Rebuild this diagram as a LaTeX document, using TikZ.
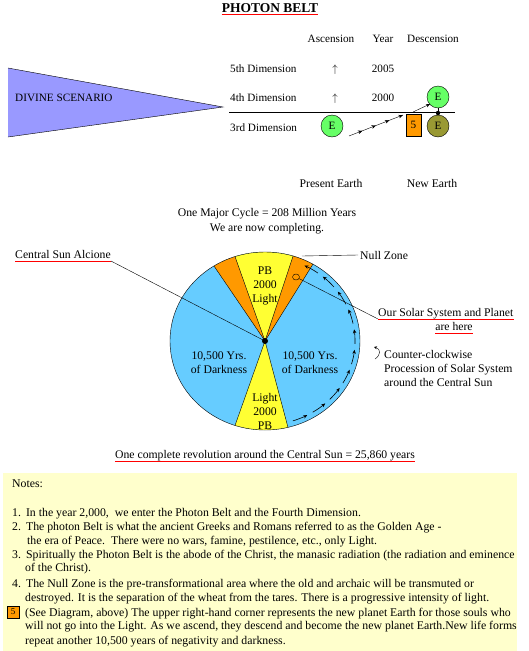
\documentclass[tikz,border=0pt]{standalone}
\usepackage{amsmath}
\usepackage{fontspec}
\setmainfont{Liberation Serif}
\usetikzlibrary{arrows.meta,decorations.markings,shapes.geometric}
\definecolor{skyblue}{HTML}{66CCFF}
\definecolor{sunyellow}{HTML}{FFFF33}
\definecolor{nullorange}{HTML}{FF9900}
\definecolor{earthgreen}{HTML}{66FF66}
\definecolor{eartholive}{HTML}{999933}
\definecolor{divineblue}{HTML}{9999FF}
\definecolor{notebg}{HTML}{FFFFCC}

\begin{document}
\begin{tikzpicture}[x=1pt,y=-1pt,font=\fontsize{11.2}{13}\selectfont,
  txt/.style={inner sep=0pt,anchor=base},
  ltxt/.style={inner sep=0pt,anchor=base west},
  mid/.style={font=\fontsize{11.7}{13}\selectfont},
  notefont/.style={font=\fontsize{11.8}{13}\selectfont},
  redline/.style={red,line width=1pt},
  earth/.style={circle,draw,minimum size=22pt,inner sep=0pt},
  arr/.style={-{Stealth[length=4pt,width=3.5pt]}}]
\useasboundingbox (0,0) rectangle (528,651);
\node[txt,font=\fontsize{13.5}{15}\selectfont\bfseries] (title) at (270,12) {PHOTON BELT};
\draw[redline] ([yshift=-2.5pt]title.base west) -- ([yshift=-2.5pt]title.base east);
\node[txt] (asc) at (331,42) {Ascension};
\node[txt] (year) at (383,42) {Year};
\node[txt] (desc) at (433,42) {Descension};
\node[ltxt] (dim5) at (230,72) {5th Dimension};
\node[ltxt] (dim4) at (230,101) {4th Dimension};
\node[ltxt] (dim3) at (230,131) {3rd Dimension};
\node[txt] (up5) at (335,72) {$\uparrow$};
\node[txt] (up4) at (335,101) {$\uparrow$};
\node[txt] (y2005) at (383,72) {2005};
\node[txt] (y2000) at (383,101) {2000};
\fill[divineblue] (8,68) -- (223,107) -- (8,137) -- cycle;
\draw (8,68) -- (223,107) -- (8,137);
\node[ltxt] (divine) at (15,101) {DIVINE SCENARIO};
\draw[thick] (229,112) -- (455,112);
\node[earth,fill=earthgreen] (now) at (332,126) {E};
\node[draw,fill=nullorange,minimum width=15pt,minimum height=22pt,inner sep=0pt] (five) at (413.5,125) {5};
\node[earth,fill=eartholive] (old) at (438,126) {E};
\node[earth,fill=earthgreen] (new) at (438,97) {E};
\draw (new) -- (old);
\fill (438,113) circle (2.2);
\coordinate (ch1) at (349,136);
\coordinate (ch2) at (403,115);
\coordinate (ch3) at (413,112);
\coordinate (ch4) at (430,104);
\draw[postaction={decorate},decoration={markings,
  mark=between positions 0.25 and 1 step 0.25 with {\arrow{Stealth[length=4.5pt,width=3.5pt]}}}] (ch1) -- (ch2);
\draw[arr] (ch3) -- (ch4);
\node[txt,mid] (present) at (331,187) {Present Earth};
\node[txt,mid] (newearth) at (432,187) {New Earth};

\node[txt,mid] (cycle) at (267,216) {One Major Cycle = 208 Million Years};
\node[txt,mid] (compl) at (267,231) {We are now completing.};
\coordinate (hub) at (265,341);
\fill[skyblue] (hub) ellipse[x radius=95,y radius=89];
\fill[sunyellow] (hub) -- ++(-108.4:95 and 89) arc[start angle=-108.4,end angle=-72.8,x radius=95,y radius=89] -- cycle;
\fill[nullorange] (hub) -- ++(-122.5:95 and 89) arc[start angle=-122.5,end angle=-108.4,x radius=95,y radius=89] -- cycle;
\fill[nullorange] (hub) -- ++(-72.8:95 and 89) arc[start angle=-72.8,end angle=-59.7,x radius=95,y radius=89] -- cycle;
\fill[sunyellow] (hub) -- ++(76:95 and 89) arc[start angle=76,end angle=108.4,x radius=95,y radius=89] -- cycle;
\foreach \t in {-122.5,-108.4,-72.8,-59.7,76,108.4}
  \draw (hub) -- ++(\t:95 and 89);
\draw (hub) ellipse[x radius=95,y radius=89];
\foreach \t in {72,58,...,-54}
  \draw[arr,semithick] (hub) ++(\t:90 and 84) arc[start angle=\t,end angle=\t-10,x radius=90,y radius=84];
\node[txt,mid] (pb1) at (265,274) {PB};
\node[txt,mid] (pb2) at (265,288) {2000};
\node[txt,mid] (pb3) at (265,302) {Light};
\node[txt,mid] (lb1) at (265,401) {Light};
\node[txt,mid] (lb2) at (265,415) {2000};
\node[txt,mid] (lb3) at (265,429) {PB};
\node[txt,mid] (dl1) at (219,359) {10,500 Yrs.};
\node[txt,mid] (dl2) at (219,373) {of Darkness};
\node[txt,mid] (dr1) at (310,359) {10,500 Yrs.};
\node[txt,mid] (dr2) at (310,373) {of Darkness};
\node[draw,ellipse,minimum width=7pt,minimum height=6pt,inner sep=0pt] (sol) at (296,277) {};
\node[ltxt,mid] (alcione) at (15,258) {Central Sun Alcione};
\draw[redline] ([yshift=-3pt]alcione.base west) -- ([yshift=-3pt]alcione.base east);
\draw ([yshift=-3pt]alcione.base east) -- (hub);
\fill (hub) circle (3);
\node[ltxt,mid] (null) at (360,259) {Null Zone};
\coordinate (nulltip) at (302,256);
\draw (nulltip) -- ([xshift=-2pt]null.west);
\node[ltxt,mid] (ossp) at (378,316) {Our Solar System and Planet};
\draw[redline] ([yshift=-3pt]ossp.base west) -- ([yshift=-3pt]ossp.base east);
\node[txt,mid] (here) at (454,330) {are here};
\draw[redline] ([yshift=-3pt]here.base west) -- ([yshift=-3pt]here.base east);
\draw (sol) -- ([yshift=-3pt]ossp.base west);
\draw[-{Stealth[length=3pt,width=3pt]}] (375,359) .. controls (381,355) and (381,349) .. (374,347);
\node[ltxt,mid] (ccw1) at (384,358) {Counter-clockwise};
\node[ltxt,mid] (ccw2) at (384,372) {Procession of Solar System};
\node[ltxt,mid] (ccw3) at (384,386) {around the Central Sun};
\node[txt,mid] (rev) at (265,458) {One complete revolution around the Central Sun = 25,860 years};
\draw[redline] ([yshift=-3pt]rev.base west) -- ([yshift=-3pt]rev.base east);

\fill[notebg] (3,473) rectangle (517,651);
\begin{scope}[notefont]
\node[ltxt] (notes) at (12,487) {Notes:};
\node[ltxt] (n1) at (12,516) {1.\hspace{5pt}In the year 2,000,\ \ we enter the Photon Belt and the Fourth Dimension.};
\node[ltxt] (n2) at (12,530) {2.\hspace{5pt}The photon Belt is what the ancient Greeks and Romans referred to as the Golden Age -};
\node[ltxt] (n2b) at (27,544) {the era of Peace.\ \ There were no wars, famine, pestilence, etc., only Light.};
\node[ltxt] (n3) at (12,558) {3.\hspace{5pt}Spiritually the Photon Belt is the abode of the Christ, the manasic radiation (the radiation and eminence};
\node[ltxt] (n3b) at (25,571) {of the Christ).};
\node[ltxt] (n4) at (12,587) {4.\hspace{5pt}The Null Zone is the pre-transformational area where the old and archaic will be transmuted or};
\node[ltxt] (n4b) at (25,601) {destroyed. It is the separation of the wheat from the tares. There is a progressive intensity of light.};
\node[draw,fill=nullorange,minimum size=12pt,inner sep=0pt,font=\fontsize{9}{10}\selectfont] (n5box) at (13,612) {5};
\node[ltxt] (n5) at (25,616) {(See Diagram, above) The upper right-hand corner represents the new planet Earth for those souls who};
\node[ltxt] (n5b) at (25,629) {will not go into the Light. As we ascend, they descend and become the new planet Earth.New life forms};
\node[ltxt] (n5c) at (25,644) {repeat another 10,500 years of negativity and darkness.};
\end{scope}
\end{tikzpicture}
\end{document}
